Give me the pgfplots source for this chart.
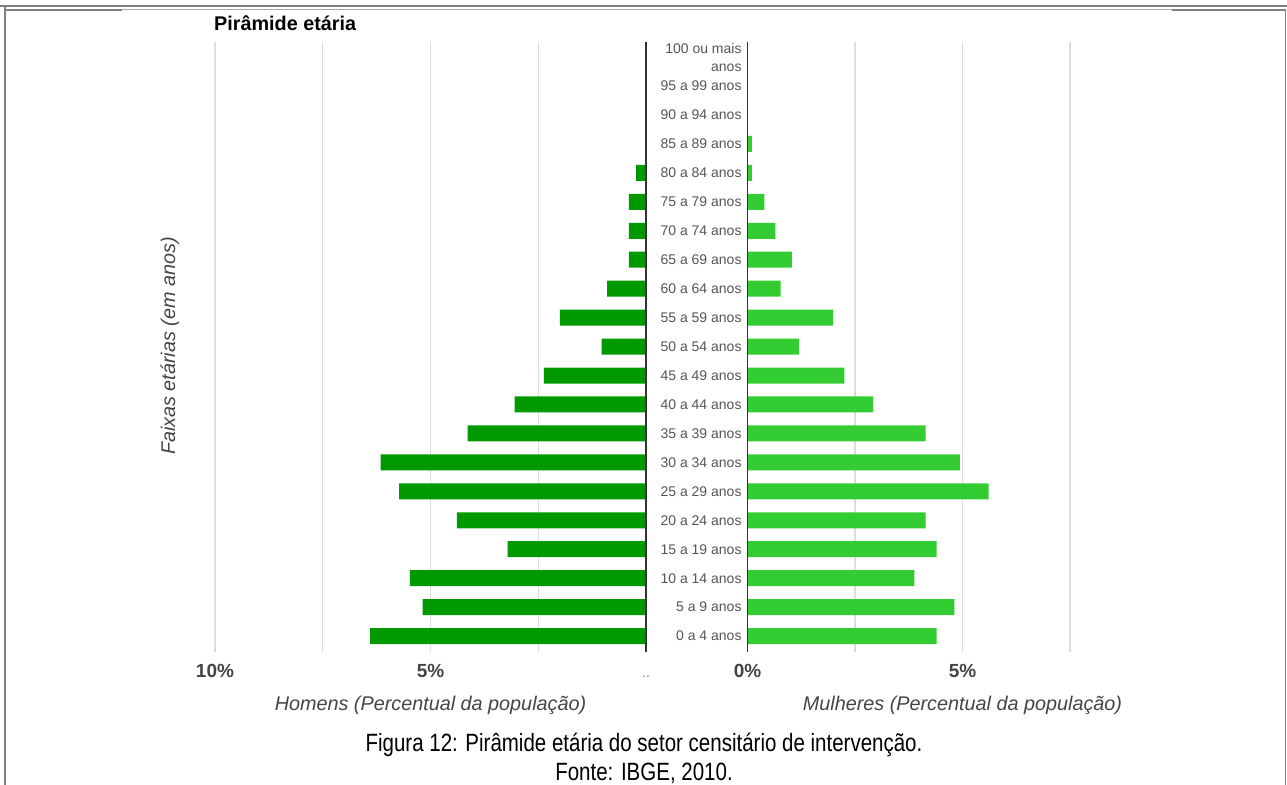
\documentclass[border=0pt]{standalone}
\usepackage{fontspec}
\setmainfont{Liberation Sans}
\usepackage{graphicx}
\usepackage{pgfplots}
\pgfplotsset{compat=1.18}
\definecolor{homens}{HTML}{009900}
\definecolor{mulheres}{HTML}{33CC33}
\definecolor{gridc}{HTML}{DDDDDD}
\definecolor{txt}{HTML}{444444}
\definecolor{cat}{HTML}{555555}
\definecolor{framec}{HTML}{808080}
\begin{document}
\begin{tikzpicture}
\useasboundingbox (0pt,0pt) rectangle (1287pt,-784pt);
% frame
\draw[framec, line width=2pt] (0pt,-6.5pt) -- (1287pt,-6.5pt);
\draw[framec!70, line width=1pt] (5pt,-10pt) -- (1285pt,-10pt);
\draw[framec, line width=2pt] (5pt,-10pt) -- (122pt,-10pt);
\draw[framec, line width=2pt] (1172pt,-10pt) -- (1285pt,-10pt);
\draw[framec, line width=2.5pt] (5pt,-7.5pt) -- (5pt,-790pt);
\draw[framec, line width=1.5pt] (1285.5pt,-9pt) -- (1285.5pt,-790pt);

% left axis (Homens)
\begin{axis}[
  scale only axis, width=431pt, height=610pt,
  at={(215pt,-652pt)}, anchor=south west,
  x dir=reverse, xmin=0, xmax=10, ymin=-0.55, ymax=20.52,
  xbar, bar width=16pt,
  axis line style={draw=none}, tick style={draw=none},
  xtick={0,2.5,5,7.5,10}, xticklabels={{\vphantom{1}\textcolor{gray}{\mdseries\fontsize{14}{16}\selectfont..}},,5\%,,10\%},
  xmajorgrids, major grid style={draw=gridc, line width=1.5pt},
  ytick=\empty,
  xticklabel style={font=\fontsize{19}{23}\selectfont\bfseries, text=txt, yshift=-9pt},
  xlabel={Homens (Percentual da população)},
  xlabel style={font=\fontsize{19.8}{23}\selectfont\itshape, text=txt, at={(axis description cs:0.5,0)}, anchor=center, yshift=-53pt},
  clip=false,
]
\addplot[fill=homens, draw=none] coordinates {
(6.40,0) (5.18,1) (5.48,2) (3.21,3) (4.39,4) (5.73,5) (6.16,6) (4.14,7) (3.05,8) (2.37,9)
(1.03,10) (2.00,11) (0.90,12) (0.40,13) (0.40,14) (0.40,15) (0.23,16) (0,17) (0,18) (0,19) (0,20)};
\draw[line width=1.5pt, color=black!80] (axis cs:0,-0.55) -- (axis cs:0,20.52);
\end{axis}

% right axis (Mulheres)
\begin{axis}[
  scale only axis, width=430pt, height=610pt,
  at={(747.5pt,-652pt)}, anchor=south west,
  xmin=0, xmax=10, ymin=-0.55, ymax=20.52,
  xbar, bar width=16pt,
  axis line style={draw=none}, tick style={draw=none},
  xtick={0,2.5,5,7.5}, xticklabels={0\%,,5\%,},
  xmajorgrids, major grid style={draw=gridc, line width=1.5pt},
  ytick={0,...,20},
  yticklabels={0 a 4 anos,5 a 9 anos,10 a 14 anos,15 a 19 anos,20 a 24 anos,25 a 29 anos,30 a 34 anos,35 a 39 anos,40 a 44 anos,45 a 49 anos,50 a 54 anos,55 a 59 anos,60 a 64 anos,65 a 69 anos,70 a 74 anos,75 a 79 anos,80 a 84 anos,85 a 89 anos,90 a 94 anos,95 a 99 anos,{100 ou mais\\anos}},
  yticklabel style={font=\fontsize{14}{18}\selectfont, text=cat, align=right, inner xsep=0pt, xshift=-1.5pt},
  xticklabel style={font=\fontsize{19}{23}\selectfont\bfseries, text=txt, yshift=-9pt},
  xlabel={Mulheres (Percentual da população)},
  xlabel style={font=\fontsize{19.8}{23}\selectfont\itshape, text=txt, at={(axis description cs:0.5,0)}, anchor=center, yshift=-53pt},
  clip=false,
]
\addplot[fill=mulheres, draw=none] coordinates {
(4.40,0) (4.81,1) (3.88,2) (4.40,3) (4.14,4) (5.61,5) (4.94,6) (4.14,7) (2.92,8) (2.25,9)
(1.20,10) (1.99,11) (0.77,12) (1.03,13) (0.65,14) (0.39,15) (0.10,16) (0.10,17) (0,18) (0,19) (0,20)};
\draw[line width=1.5pt, color=black!80] (axis cs:0,-0.55) -- (axis cs:0,20.52);
\end{axis}

% titles
\node[anchor=base west, font=\fontsize{19.8}{23}\selectfont\bfseries, inner sep=0pt] at (214pt,-31pt) {Pirâmide etária};
\node[rotate=90, font=\fontsize{19.8}{23}\selectfont\itshape, text=txt] at (170pt,-346pt) {Faixas etárias (em anos)};
\node[font=\fontsize{25}{30}\selectfont, inner sep=0pt] at (644pt,-745pt) {\scalebox{0.82}[1]{Figura 12: Pirâmide etária do setor censitário de intervenção.}};
\node[font=\fontsize{25}{30}\selectfont, inner sep=0pt] at (644pt,-773pt) {\scalebox{0.82}[1]{Fonte: IBGE, 2010.}};
\end{tikzpicture}
\end{document}
